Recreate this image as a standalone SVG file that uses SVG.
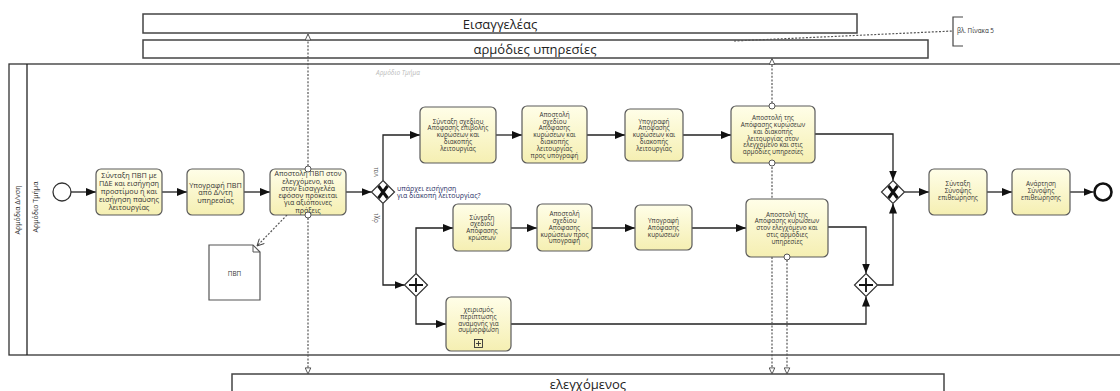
<svg xmlns="http://www.w3.org/2000/svg" width="1120" height="391" viewBox="0 0 1120 391">
<defs>
<linearGradient id="tg" x1="0" y1="0" x2="0" y2="1">
<stop offset="0" stop-color="#fffee8"/>
<stop offset="1" stop-color="#f5efb2"/>
</linearGradient>
<marker id="seq" viewBox="0 0 10 8" refX="10" refY="4" markerWidth="10" markerHeight="8" markerUnits="userSpaceOnUse" orient="auto">
<path d="M0,0 L10,4 L0,8 z" fill="#111"/>
</marker>
<marker id="msg" viewBox="0 0 8 8" refX="7.5" refY="4" markerWidth="7" markerHeight="7" markerUnits="userSpaceOnUse" orient="auto">
<path d="M0.5,0.8 L7.5,4 L0.5,7.2 z" fill="#fff" stroke="#444" stroke-width="1"/>
</marker>
<marker id="assoc" viewBox="0 0 8 8" refX="7.5" refY="4" markerWidth="8" markerHeight="8" markerUnits="userSpaceOnUse" orient="auto">
<path d="M0.5,0.5 L7.5,4 L0.5,7.5" fill="none" stroke="#444" stroke-width="1"/>
</marker>
</defs>
<style>
.part{fill:#fff;stroke:#444;stroke-width:1.5}
.ptxt{font-family:"Open Sans","Noto Sans",sans-serif;font-size:13px;fill:#222;text-anchor:middle}
.pool{fill:none;stroke:#333;stroke-width:1.3}
.task{fill:url(#tg);stroke:#5a5a5a;stroke-width:1.2}
.t{font-family:"Open Sans","Noto Sans",sans-serif;font-size:6.4px;fill:#333;text-anchor:middle}
.tb{font-family:"Open Sans","Noto Sans",sans-serif;font-size:7.3px;fill:#333;text-anchor:middle}
.gw{fill:#fff;stroke:#333;stroke-width:1.2}
.ev{fill:#fff;stroke:#333;stroke-width:1.3}
.evend{fill:#fff;stroke:#111;stroke-width:2.6}
.flow{fill:none;stroke:#222;stroke-width:1.3;marker-end:url(#seq)}
.mflow{fill:none;stroke:#555;stroke-width:1.2;stroke-dasharray:2,1.6;marker-end:url(#msg)}
.mdot{fill:#fff;stroke:#555;stroke-width:1}
.lbl{font-family:"Open Sans","Noto Sans",sans-serif;font-size:6.3px;fill:#555}
</style>

<g id="participant-eisaggeleas">
<rect class="part" x="143" y="14" width="714" height="19"/>
<text class="ptxt" x="500" y="28.5">Εισαγγελέας</text>
</g>
<g id="participant-armodies">
<rect class="part" x="143" y="40" width="785" height="18"/>
<text class="ptxt" x="535" y="54">αρμόδιες υπηρεσίες</text>
</g>
<g id="participant-elegxomenos">
<rect class="part" x="232" y="374" width="712" height="30"/>
<text class="ptxt" x="588" y="389">ελεγχόμενος</text>
</g>

<g id="pool">
<rect class="pool" x="9" y="64" width="1120" height="291"/>
<line x1="27" y1="64" x2="27" y2="355" stroke="#222" stroke-width="1.3"/>
<text class="lbl" transform="translate(20,210) rotate(-90)" text-anchor="middle" style="font-size:7px;fill:#333">Αρμόδια Δ/νση</text>
<text class="lbl" transform="translate(38,207) rotate(-90)" text-anchor="middle" style="font-size:7px;fill:#333">Αρμόδιο Τμήμα</text>
<text class="lbl" x="398" y="75" text-anchor="middle" style="font-style:italic;fill:#bbb;font-size:6.5px">Αρμόδιο Τμήμα</text>
</g>

<g id="annotation">
<path d="M963,17 H953 V46 H963" fill="none" stroke="#444" stroke-width="1.2"/>
<text class="lbl" x="957" y="33" style="fill:#333">βλ. Πίνακα 5</text>
</g>

<g id="connectors">
<path class="flow" d="M71,192 H96"/>
<path class="flow" d="M162,192 H187"/>
<path class="flow" d="M244,192 H270"/>
<path class="flow" d="M346,192 H371.5"/>
<path class="flow" d="M383,180.5 V135 H420"/>
<path class="flow" d="M383,203.5 V285 H404.5"/>
<path class="flow" d="M416,273.5 V228 H453"/>
<path class="flow" d="M416,296.5 V324 H446"/>
<path class="flow" d="M496,135 H522"/>
<path class="flow" d="M587,135 H625"/>
<path class="flow" d="M683,135 H731"/>
<path class="flow" d="M815,134 H893 V180.5"/>
<path class="flow" d="M511,228 H537"/>
<path class="flow" d="M592,228 H635"/>
<path class="flow" d="M692,228 H746"/>
<path class="flow" d="M828,227 H866 V273.5"/>
<path class="flow" d="M511,324 H866 V296.5"/>
<path class="flow" d="M877.5,285 H893 V203.5"/>
<path class="flow" d="M904.5,192 H929"/>
<path class="flow" d="M987,192 H1012"/>
<path class="flow" d="M1070,192 H1093.5"/>
<path class="mflow" d="M308,166 V34"/>
<path class="mflow" d="M308,218 V374"/>
<path class="mflow" d="M772,103 V58.5"/>
<path class="mflow" d="M772,167 V374"/>
<path class="mflow" d="M787,260 V374"/>
<path d="M287,215 L257,246" fill="none" stroke="#555" stroke-width="1.2" stroke-dasharray="2,1.6" marker-end="url(#assoc)"/>
<path d="M734,41 L953,31" fill="none" stroke="#555" stroke-width="1.2" stroke-dasharray="2,1.6"/>
<text class="lbl" transform="translate(378,172) rotate(-90)" text-anchor="middle">ναι</text>
<text class="lbl" transform="translate(378,218) rotate(-90)" text-anchor="middle">όχι</text>
</g>

<g id="start">
<circle class="ev" cx="62" cy="192" r="9"/>
</g>
<g id="task1">
<rect class="task" x="96" y="169" width="66" height="46" rx="5"/>
<text class="tb"><tspan x="129" y="177.6">Σύνταξη ΠΒΠ με</tspan><tspan x="129" y="185.6">ΠΔΕ και εισήγηση</tspan><tspan x="129" y="193.6">προστίμου ή και</tspan><tspan x="129" y="201.6">εισήγηση παύσης</tspan><tspan x="129" y="209.6">λειτουργίας</tspan></text>
</g>
<g id="task2">
<rect class="task" x="187" y="169" width="57" height="46" rx="5"/>
<text class="tb"><tspan x="215.5" y="187.5">Υπογραφή ΠΒΠ</tspan><tspan x="215.5" y="195.3">από Δ/ντη</tspan><tspan x="215.5" y="203.1">υπηρεσίας</tspan></text>
</g>
<g id="task3">
<rect class="task" x="270" y="169" width="76" height="46" rx="5"/>
<text class="tb" style="font-size:7px"><tspan x="308" y="176.2">Αποστολή ΠΒΠ στον</tspan><tspan x="308" y="183.5">ελεγχόμενο, και</tspan><tspan x="308" y="190.8">στον Εισαγγελέα</tspan><tspan x="308" y="198.1">εφόσον πρόκειται</tspan><tspan x="308" y="205.4">για αξιόποινες</tspan><tspan x="308" y="212.7">πράξεις</tspan></text>
<circle class="mdot" cx="308" cy="169" r="3"/>
<circle class="mdot" cx="308" cy="215" r="3"/>
</g>
<g id="data-pvp">
<path d="M209,245 H253 L260,252 V300 H209 Z" fill="#fff" stroke="#555" stroke-width="1.2"/>
<path d="M253,245 V252 H260" fill="none" stroke="#555" stroke-width="1"/>
<text class="t" x="234.5" y="275.5">ΠΒΠ</text>
</g>
<g id="gw-xor1">
<path class="gw" d="M383,180.5 L394.5,192 L383,203.5 L371.5,192 Z"/>
<path d="M378.5,186 L387.5,198 M387.5,186 L378.5,198" stroke="#111" stroke-width="3"/>
<text class="lbl" style="fill:#2a2f66;font-size:7px"><tspan x="397" y="191">υπάρχει εισήγηση</tspan><tspan x="397" y="198.3">για διακοπή λειτουργίας?</tspan></text>
</g>
<g id="taskA1">
<rect class="task" x="420" y="107" width="76" height="56" rx="5"/>
<text class="t"><tspan x="458" y="123.6">Σύνταξη σχεδίου</tspan><tspan x="458" y="130.4">Απόφασης επιβολής</tspan><tspan x="458" y="137.2">κυρώσεων και</tspan><tspan x="458" y="144">διακοπής</tspan><tspan x="458" y="150.8">λειτουργίας</tspan></text>
</g>
<g id="taskA2">
<rect class="task" x="522" y="106" width="65" height="57" rx="5"/>
<text class="t"><tspan x="554.5" y="116.8">Αποστολή</tspan><tspan x="554.5" y="123.6">σχεδίου</tspan><tspan x="554.5" y="130.4">Απόφασης</tspan><tspan x="554.5" y="137.2">κυρώσεων και</tspan><tspan x="554.5" y="144">διακοπής</tspan><tspan x="554.5" y="150.8">λειτουργίας</tspan><tspan x="554.5" y="157.6">προς υπογραφή</tspan></text>
</g>
<g id="taskA3">
<rect class="task" x="625" y="109" width="58" height="52" rx="5"/>
<text class="t"><tspan x="654" y="123.6">Υπογραφή</tspan><tspan x="654" y="130.4">Απόφασης</tspan><tspan x="654" y="137.2">κυρώσεων και</tspan><tspan x="654" y="144">διακοπής</tspan><tspan x="654" y="150.8">λειτουργίας</tspan></text>
</g>
<g id="taskA4">
<rect class="task" x="731" y="106" width="84" height="57" rx="5"/>
<text class="t"><tspan x="773" y="120.2">Αποστολή της</tspan><tspan x="773" y="127">Απόφασης κυρώσεων</tspan><tspan x="773" y="133.8">και διακοπής</tspan><tspan x="773" y="140.6">λειτουργίας στον</tspan><tspan x="773" y="147.4">ελεγχόμενο και στις</tspan><tspan x="773" y="154.2">αρμόδιες υπηρεσίες</tspan></text>
<circle class="mdot" cx="772" cy="106" r="3"/>
<circle class="mdot" cx="772" cy="163" r="3"/>
</g>
<g id="gw-and1">
<path class="gw" d="M416,273.5 L427.5,285 L416,296.5 L404.5,285 Z"/>
<path d="M416,278 V292 M409,285 H423" stroke="#111" stroke-width="1.8"/>
</g>
<g id="taskB1">
<rect class="task" x="453" y="204" width="58" height="47" rx="5"/>
<text class="t"><tspan x="482" y="219.5">Σύνταξη</tspan><tspan x="482" y="226.3">σχεδίου</tspan><tspan x="482" y="233.1">Απόφασης</tspan><tspan x="482" y="239.9">κρώσεων</tspan></text>
</g>
<g id="taskB2">
<rect class="task" x="537" y="204" width="55" height="47" rx="5"/>
<text class="t"><tspan x="564.5" y="216.1">Αποστολή</tspan><tspan x="564.5" y="222.9">σχεδίου</tspan><tspan x="564.5" y="229.7">Απόφασης</tspan><tspan x="564.5" y="236.5">κυρώσεων προς</tspan><tspan x="564.5" y="243.3">υπογραφή</tspan></text>
</g>
<g id="taskB3">
<rect class="task" x="635" y="205" width="57" height="45" rx="5"/>
<text class="t"><tspan x="663.5" y="222.9">Υπογραφή</tspan><tspan x="663.5" y="229.7">Απόφασης</tspan><tspan x="663.5" y="236.5">κυρώσεων</tspan></text>
</g>
<g id="taskB4">
<rect class="task" x="746" y="199" width="82" height="58" rx="5"/>
<text class="t"><tspan x="787" y="216.6">Αποστολή της</tspan><tspan x="787" y="223.4">Απόφασης κυρώσεων</tspan><tspan x="787" y="230.2">στον ελεγχόμενο και</tspan><tspan x="787" y="237">στις αρμόδιες</tspan><tspan x="787" y="243.8">υπηρεσίες</tspan></text>
<circle class="mdot" cx="787" cy="257" r="3"/>
</g>
<g id="taskC">
<rect class="task" x="446" y="297" width="65" height="54" rx="5"/>
<text class="t"><tspan x="478.5" y="312">χειρισμός</tspan><tspan x="478.5" y="318.8">περίπτωσης</tspan><tspan x="478.5" y="325.6">αναμονής για</tspan><tspan x="478.5" y="332.4">συμμόρφωση</tspan></text>
<rect x="474.5" y="339.5" width="8" height="8" fill="none" stroke="#333" stroke-width="0.9"/>
<path d="M478.5,341 V346 M476,343.5 H481" stroke="#333" stroke-width="0.9"/>
</g>
<g id="gw-and2">
<path class="gw" d="M866,273.5 L877.5,285 L866,296.5 L854.5,285 Z"/>
<path d="M866,278 V292 M859,285 H873" stroke="#111" stroke-width="1.8"/>
</g>
<g id="gw-xor2">
<path class="gw" d="M893,180.5 L904.5,192 L893,203.5 L881.5,192 Z"/>
<path d="M888.5,186 L897.5,198 M897.5,186 L888.5,198" stroke="#111" stroke-width="3"/>
</g>
<g id="taskS1">
<rect class="task" x="929" y="169" width="58" height="46" rx="5"/>
<text class="t"><tspan x="958" y="186.4">Σύνταξη</tspan><tspan x="958" y="193.2">Σύνοψης</tspan><tspan x="958" y="200">επιθεώρησης</tspan></text>
</g>
<g id="taskS2">
<rect class="task" x="1012" y="169" width="58" height="46" rx="5"/>
<text class="t"><tspan x="1041" y="186.4">Ανάρτηση</tspan><tspan x="1041" y="193.2">Σύνοψης</tspan><tspan x="1041" y="200">επιθεώρησης</tspan></text>
</g>
<g id="end">
<circle class="evend" cx="1103" cy="192" r="8.5"/>
</g>
</svg>
